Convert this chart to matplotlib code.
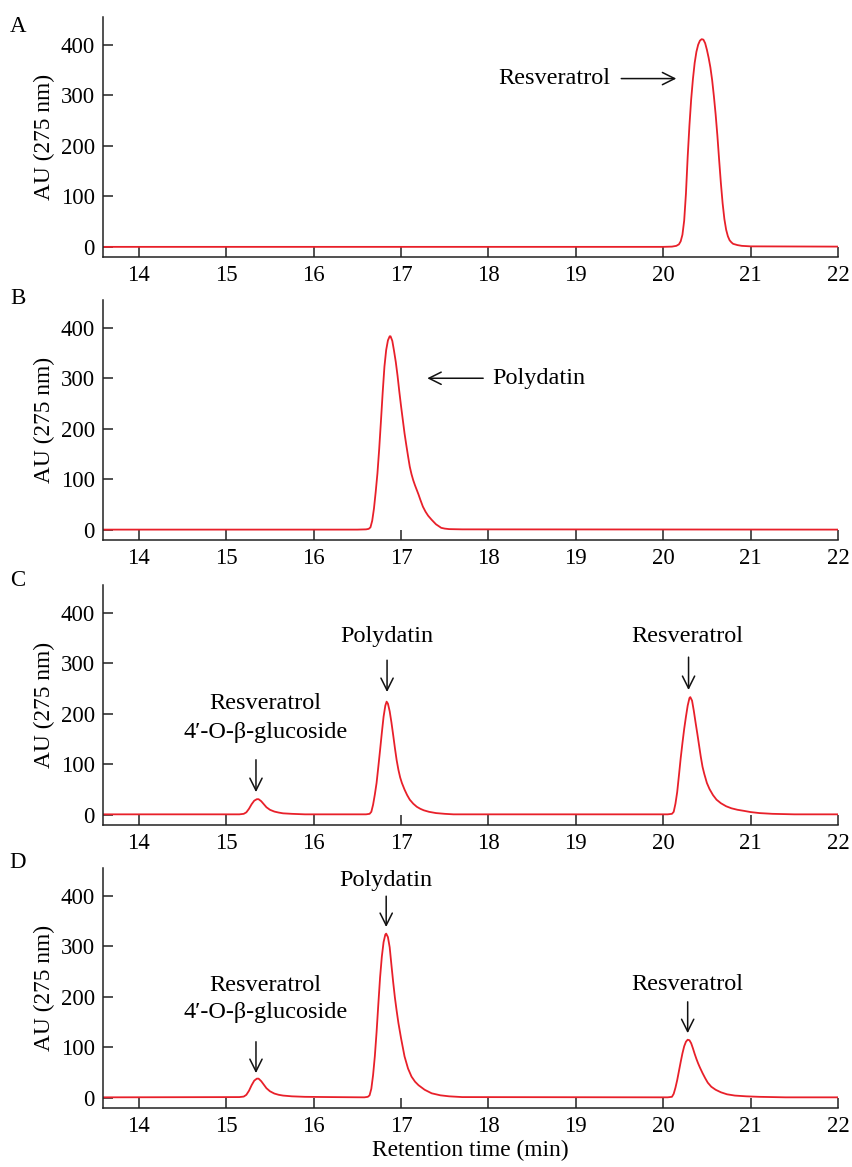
import matplotlib
matplotlib.use('Agg')
import matplotlib.pyplot as plt

plt.rcParams['font.family'] = ['Liberation Serif', 'DejaVu Serif']

# chromatogram traces (time in min, AU at 275 nm)
time_a = [13.59, 20.00, 20.10, 20.15, 20.18, 20.20, 20.22, 20.24, 20.26, 20.28, 20.30,
          20.32, 20.34, 20.36, 20.38, 20.40, 20.42, 20.44, 20.46, 20.48, 20.50,
          20.52, 20.54, 20.56, 20.58, 20.60, 20.62, 20.64, 20.66, 20.68, 20.70,
          20.72, 20.74, 20.76, 20.78, 20.80, 20.85, 20.90, 21.00, 22.00]
au_a = [0, 0, 0.5, 2, 5, 11, 24, 52, 105, 178, 240,
        292, 332, 364, 386, 400, 408, 411, 410, 403, 390,
        374, 355, 330, 298, 262, 220, 172, 126, 86, 55,
        34, 21, 13, 9, 6, 3.5, 2, 1, 0.5]

time_b = [13.59, 16.50, 16.60, 16.63, 16.65, 16.67, 16.69, 16.71, 16.73, 16.75, 16.77,
          16.79, 16.81, 16.83, 16.85, 16.87, 16.88, 16.90, 16.92, 16.94, 16.96,
          16.98, 17.00, 17.02, 17.04, 17.06, 17.08, 17.10, 17.12, 17.14, 17.16,
          17.18, 17.20, 17.22, 17.25, 17.28, 17.31, 17.35, 17.40, 17.46, 17.50,
          17.55, 17.70, 22.00]
au_b = [0.5, 0.5, 1, 2, 5, 18, 42, 75, 112, 160, 215,
        272, 323, 356, 375, 383, 383, 374, 354, 332, 305,
        274, 245, 218, 191, 168, 146, 125, 110, 98, 88,
        79, 70, 60, 46, 36, 28, 20, 11, 4, 2.5,
        1.5, 1, 0.5]

time_c = [13.59, 15.15, 15.20, 15.23, 15.26, 15.29, 15.32, 15.35, 15.37, 15.40, 15.43,
          15.46, 15.50, 15.55, 15.60, 15.65, 15.75, 15.90,
          16.60, 16.64, 16.66, 16.68, 16.70, 16.72, 16.74, 16.76, 16.78, 16.80,
          16.82, 16.835, 16.85, 16.87, 16.89, 16.91, 16.93, 16.95, 16.97, 16.99,
          17.01, 17.04, 17.07, 17.10, 17.14, 17.18, 17.22, 17.26, 17.32, 17.40,
          17.50, 17.60,
          20.05, 20.10, 20.12, 20.14, 20.16, 20.18, 20.20, 20.22, 20.24, 20.26,
          20.28, 20.30, 20.31, 20.33, 20.35, 20.37, 20.39, 20.41, 20.43, 20.45,
          20.47, 20.50, 20.53, 20.57, 20.61, 20.66, 20.72, 20.78, 20.85, 20.92,
          21.00, 21.10, 21.25, 21.50, 22.00]
au_c = [1, 1, 2, 5, 12, 21, 28, 31, 31, 27, 21,
        15, 10, 6.5, 4.5, 3, 2, 1,
        1, 2, 6, 20, 40, 63, 95, 128, 162, 194,
        216, 224, 220, 205, 183, 158, 132, 108, 89, 74,
        63, 50, 39, 30, 22, 16, 12, 9, 6, 3.5,
        2, 1,
        1, 2, 6, 22, 45, 78, 112, 142, 170, 194,
        216, 231, 233, 226, 206, 183, 161, 138, 115, 95,
        81, 63, 51, 39, 30, 23, 17, 13, 10, 8,
        5.5, 3.5, 2, 1, 1]

time_d = [13.59, 15.15, 15.20, 15.23, 15.26, 15.29, 15.32, 15.35, 15.37, 15.40, 15.43,
          15.46, 15.50, 15.55, 15.60, 15.65, 15.75, 15.90, 16.20,
          16.58, 16.62, 16.64, 16.66, 16.68, 16.70, 16.72, 16.74, 16.76, 16.78,
          16.80, 16.82, 16.83, 16.85, 16.87, 16.89, 16.91, 16.93, 16.95, 16.97,
          17.00, 17.04, 17.08, 17.12, 17.16, 17.20, 17.27, 17.35, 17.45, 17.55,
          17.70,
          20.05, 20.10, 20.12, 20.14, 20.16, 20.18, 20.20, 20.22, 20.24, 20.26,
          20.28, 20.30, 20.32, 20.34, 20.36, 20.38, 20.40, 20.42, 20.45, 20.48,
          20.51, 20.55, 20.60, 20.66, 20.73, 20.82, 20.95, 21.10, 21.40, 22.00]
au_d = [1, 1.5, 2.5, 6, 14, 25, 34, 38, 38, 33, 26,
        19, 13, 8.5, 6, 4.5, 3, 2, 1.5,
        1, 2, 5, 18, 45, 82, 130, 185, 238, 279,
        308, 323, 325, 318, 298, 263, 229, 198, 172, 148,
        118, 82, 58, 42, 32, 25, 16, 9, 5, 3,
        1.5,
        1, 2, 8, 20, 35, 53, 71, 88, 102, 111,
        115, 114, 108, 98, 87, 77, 68, 60, 49, 39,
        30, 22, 16, 11, 7, 4.5, 3, 2, 1, 1]

panel_labels = ['A', 'B', 'C', 'D']
x_ticks = [14, 15, 16, 17, 18, 19, 20, 21, 22]
y_ticks = [0, 100, 200, 300, 400]

traces = [(time_a, au_a), (time_b, au_b), (time_c, au_c), (time_d, au_d)]
bottoms = [0.7798, 0.5373, 0.2931, 0.0506]
label_y = [27, 298, 580, 862]

fs = 16.5
fs_note = 17.5
arrow_kw = dict(arrowstyle='->', lw=1.1, color='#111111', mutation_scale=22,
                shrinkA=0, shrinkB=0)

fig = plt.figure(figsize=(8.53, 11.67), dpi=100)
axes = []
for i, (t, y) in enumerate(traces):
    ax = fig.add_axes([0.1208, bottoms[i], 0.8616, 0.2057])
    ax.plot(t, y, color='#e8202a', lw=1.3)
    ax.set_xlim(13.59, 22)
    ax.set_ylim(-20, 455)
    ax.set_xticks(x_ticks)
    ax.set_yticks(y_ticks)
    ax.spines['top'].set_visible(False)
    ax.spines['right'].set_visible(False)
    for s in ['left', 'bottom']:
        ax.spines[s].set_linewidth(1.1)
        ax.spines[s].set_color('#222222')
    ax.tick_params(direction='in', length=7, width=1.1, color='#222222',
                   labelsize=fs, pad=6)
    ax.set_ylabel('AU (275 nm)', fontsize=16.8, labelpad=4)
    fig.text(0.021, 1 - label_y[i] / 1167, panel_labels[i], fontsize=fs,
             ha='center', va='center')
    axes.append(ax)

ax_a, ax_b, ax_c, ax_d = axes

# A
ax_a.text(19.40, 333, 'Resveratrol', fontsize=fs_note, ha='right', va='center')
ax_a.annotate('', xy=(20.15, 333), xytext=(19.52, 333), arrowprops=arrow_kw)

# B
ax_b.text(18.04, 300, 'Polydatin', fontsize=fs_note, ha='left', va='center')
ax_b.annotate('', xy=(17.30, 300), xytext=(17.94, 300), arrowprops=arrow_kw)

# C
ax_c.text(15.45, 221, 'Resveratrol', fontsize=fs_note, ha='center', va='center')
ax_c.text(15.45, 162, '4\u2032-O-\u03b2-glucoside', fontsize=fs_note, ha='center', va='center')
ax_c.annotate('', xy=(15.34, 45), xytext=(15.34, 109), arrowprops=arrow_kw)
ax_c.text(16.84, 352, 'Polydatin', fontsize=fs_note, ha='center', va='center')
ax_c.annotate('', xy=(16.84, 243), xytext=(16.84, 306), arrowprops=arrow_kw)
ax_c.text(20.28, 352, 'Resveratrol', fontsize=fs_note, ha='center', va='center')
ax_c.annotate('', xy=(20.29, 247), xytext=(20.29, 312), arrowprops=arrow_kw)

# D
ax_d.text(15.45, 223, 'Resveratrol', fontsize=fs_note, ha='center', va='center')
ax_d.text(15.45, 168, '4\u2032-O-\u03b2-glucoside', fontsize=fs_note, ha='center', va='center')
ax_d.annotate('', xy=(15.34, 49), xytext=(15.34, 111), arrowprops=arrow_kw)
ax_d.text(16.83, 431, 'Polydatin', fontsize=fs_note, ha='center', va='center')
ax_d.annotate('', xy=(16.83, 338), xytext=(16.83, 399), arrowprops=arrow_kw)
ax_d.text(20.28, 225, 'Resveratrol', fontsize=fs_note, ha='center', va='center')
ax_d.annotate('', xy=(20.28, 128), xytext=(20.28, 190), arrowprops=arrow_kw)

ax_d.set_xlabel('Retention time (min)', fontsize=16.8, labelpad=2)

fig.savefig('out.png', dpi=100)
